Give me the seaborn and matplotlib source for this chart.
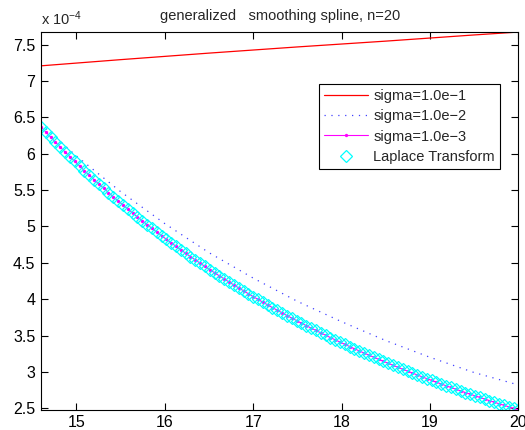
import numpy as np
import pandas as pd
import matplotlib
matplotlib.use("Agg")
import matplotlib.pyplot as plt
import seaborn as sns

# ---- data (values in units of 1e-4) ----
x_dense = np.linspace(14.6, 20.0, 100)
laplace = [
    6.370, 6.300, 6.230, 6.161, 6.093,
    6.026, 5.961, 5.896, 5.832, 5.769,
    5.706, 5.645, 5.585, 5.526, 5.467,
    5.409, 5.352, 5.296, 5.241, 5.186,
    5.132, 5.079, 5.027, 4.975, 4.924,
    4.873, 4.824, 4.775, 4.727, 4.679,
    4.632, 4.586, 4.540, 4.495, 4.450,
    4.406, 4.363, 4.320, 4.278, 4.236,
    4.195, 4.155, 4.115, 4.075, 4.036,
    3.997, 3.959, 3.922, 3.884, 3.848,
    3.811, 3.775, 3.740, 3.705, 3.670,
    3.636, 3.603, 3.570, 3.537, 3.504,
    3.472, 3.441, 3.410, 3.379, 3.348,
    3.318, 3.288, 3.259, 3.230, 3.201,
    3.173, 3.145, 3.118, 3.090, 3.063,
    3.036, 3.010, 2.984, 2.958, 2.932,
    2.907, 2.882, 2.858, 2.833, 2.809,
    2.785, 2.762, 2.738, 2.715, 2.693,
    2.670, 2.648, 2.626, 2.604, 2.582,
    2.561, 2.540, 2.519, 2.498, 2.478,
]
sigma3 = list(laplace)

x_red = [14.6, 15.5, 16.5, 17.5, 18.5, 19.5, 20.0]
sigma1 = [7.21, 7.295, 7.385, 7.47, 7.55, 7.635, 7.675]

x_blue = [14.6, 15.0, 15.5, 16.0, 16.5, 17.0, 17.5, 18.0, 18.5, 19.0, 19.5, 20.0]
sigma2 = [6.41, 5.97, 5.48, 5.04, 4.64, 4.29, 3.97, 3.69, 3.43, 3.20, 2.99, 2.82]

labels = ["sigma=1.0e\u22121", "sigma=1.0e\u22122", "sigma=1.0e\u22123", "Laplace Transform"]
title = "generalized   smoothing spline, n=20"

# ---- style ----
sns.set_style("ticks")
plt.rcParams["font.family"] = ["Liberation Sans", "DejaVu Sans"]
plt.rcParams["mathtext.fontset"] = "custom"
plt.rcParams["mathtext.rm"] = "Liberation Sans"
plt.rcParams["mathtext.it"] = "Liberation Sans"

fig = plt.figure(figsize=(5.25, 4.30), dpi=100)
ax = fig.add_axes([0.078, 0.047, 0.9095, 0.8785])

sns.lineplot(x=x_red, y=sigma1, ax=ax, color=(1, 0, 0), linewidth=0.9,
             label=labels[0], sort=False, estimator=None)
sns.lineplot(x=x_blue, y=sigma2, ax=ax, color=(0.25, 0.25, 1.0), linewidth=0.9,
             label=labels[1], sort=False, estimator=None)
ax.lines[-1].set_dashes([1.0, 4.5])
sns.lineplot(x=x_dense, y=sigma3, ax=ax, color=(1, 0, 1), linewidth=0.8,
             marker="o", markersize=2.4, markeredgewidth=0,
             label=labels[2], sort=False, estimator=None)
sns.lineplot(x=x_dense, y=laplace, ax=ax, color=(0, 1, 1), linestyle="none",
             marker="D", markersize=6, markerfacecolor="none",
             markeredgecolor=(0, 1, 1), markeredgewidth=0.9,
             label=labels[3], sort=False, estimator=None)

ax.set_xlim(14.6, 20.0)
ax.set_ylim(min(laplace), max(sigma1))
ax.set_xticks([15, 16, 17, 18, 19, 20])
ax.set_yticks([2.5, 3, 3.5, 4, 4.5, 5, 5.5, 6, 6.5, 7, 7.5])
ax.set_yticklabels(["2.5", "3", "3.5", "4", "4.5", "5", "5.5", "6", "6.5", "7", "7.5"])
ax.set_xlabel("")
ax.set_ylabel("")

for s in ax.spines.values():
    s.set_visible(True)
    s.set_color("black")
    s.set_linewidth(0.8)
ax.tick_params(direction="in", length=5, width=0.8, top=True, right=True,
               labelsize=11.5, colors="black", pad=4)

ax.set_title(title, fontsize=10.5, pad=9)
ax.text(0.0, 1.012, "x 10$^{-4}$", transform=ax.transAxes, fontsize=10.5,
        ha="left", va="bottom")

leg = ax.legend(loc="upper right", bbox_to_anchor=(0.961, 0.862), fontsize=10.5,
                frameon=True, fancybox=False, edgecolor="black", framealpha=1,
                handlelength=3.0, handletextpad=0.35, borderpad=0.35,
                labelspacing=0.42, numpoints=1, borderaxespad=0)
leg.get_frame().set_linewidth(0.8)

fig.savefig("out.png", dpi=100)
